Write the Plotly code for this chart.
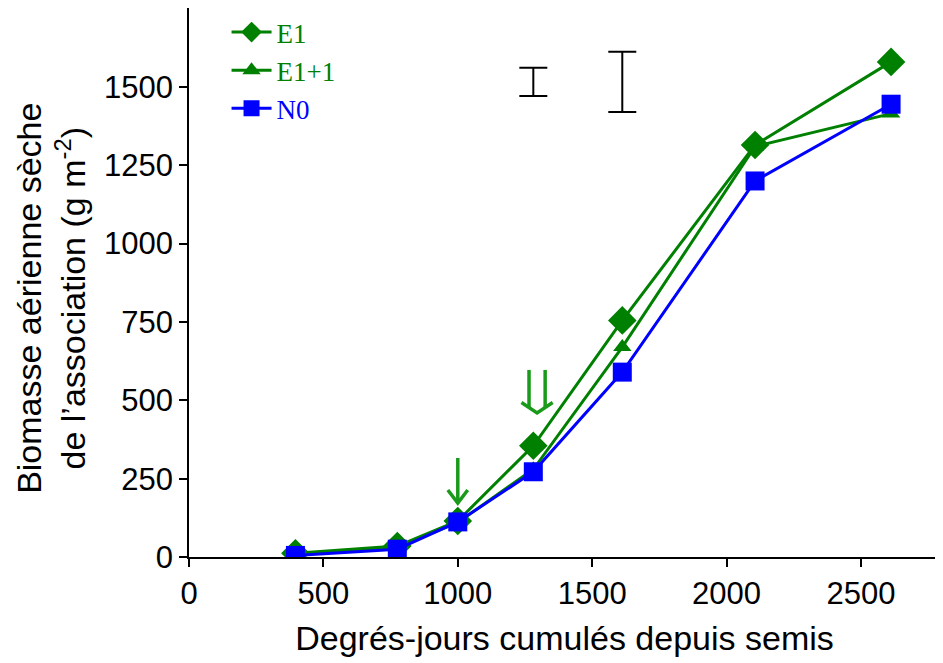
import plotly.graph_objects as go

# ---- data ----
x_deg = [396, 775, 1000, 1281, 1612, 2106, 2612]
e1 = [12, 35, 115, 355, 755, 1315, 1580]
e1p1 = [10, 30, 110, 280, 670, 1310, 1415]
n0 = [5, 25, 112, 272, 590, 1200, 1445]

err_x = [1281, 1612]
err_center = [1516, 1516]
err_half = [45, 96]

arrow_x = [1000, 1295]
arrow_top = [316, 597]
arrow_tip = [172, 460]
arrow_kind = ["single", "double"]

x_ticks = [0, 500, 1000, 1500, 2000, 2500]
y_ticks = [0, 250, 500, 750, 1000, 1250, 1500]

y_title = "Biomasse aérienne sèche<br>de l’association (g m<sup>-2</sup>)"
x_title = "Degrés-jours cumulés depuis semis"

GREEN = "#008000"
BLUE = "#0000FF"

fig = go.Figure()

fig.add_trace(go.Scatter(
    x=x_deg, y=e1p1, mode="lines+markers",
    name='<span style="color:#008000">E1+1</span>',
    line=dict(color=GREEN, width=3),
    marker=dict(symbol="triangle-up", size=16, color=GREEN),
    legendrank=2))
fig.add_trace(go.Scatter(
    x=x_deg, y=e1, mode="lines+markers",
    name='<span style="color:#008000">E1</span>',
    line=dict(color=GREEN, width=3),
    marker=dict(symbol="diamond", size=22, color=GREEN),
    legendrank=1))
fig.add_trace(go.Scatter(
    x=x_deg, y=n0, mode="lines+markers",
    name='<span style="color:#0000FF">N0</span>',
    line=dict(color=BLUE, width=3),
    marker=dict(symbol="square", size=19, color=BLUE),
    legendrank=3))

# error bars
fig.add_trace(go.Scatter(
    x=err_x, y=err_center, mode="markers",
    marker=dict(size=1, color="rgba(0,0,0,0)"),
    error_y=dict(type="data", array=err_half, color="black", thickness=2, width=14),
    showlegend=False, hoverinfo="skip"))

# arrows (open V heads)
for ax, at, tip, kind in zip(arrow_x, arrow_top, arrow_tip, arrow_kind):
    if kind == "single":
        xs = [ax, ax, None, ax - 37, ax, ax + 37]
        ys = [at, tip + 3, None, tip + 42, tip, tip + 42]
    else:
        dx = 30
        xs = [ax - dx, ax - dx, None, ax + dx, ax + dx, None, ax - 58, ax, ax + 58]
        ys = [at, tip + 18, None, at, tip + 18, None, tip + 33, tip, tip + 33]
    fig.add_trace(go.Scatter(x=xs, y=ys, mode="lines",
                             line=dict(color="#1a9a1a", width=3.5),
                             showlegend=False, hoverinfo="skip"))

tick_font = dict(family="Liberation Sans, Arial, sans-serif", size=31, color="black")
title_font = dict(family="Liberation Sans, Arial, sans-serif", size=34, color="black")

# page body has an 8px default margin: size the figure so it fits the 943x663 window
fig.update_layout(
    width=935, height=655,
    margin=dict(l=181, r=3, t=0, b=106),
    plot_bgcolor="white", paper_bgcolor="white",
    showlegend=True,
    legend=dict(x=0.05, y=1.0, xanchor="left", yanchor="top",
                bgcolor="rgba(0,0,0,0)",
                font=dict(family="Liberation Serif, Times New Roman, serif", size=27),
                itemwidth=40),
    xaxis=dict(range=[0, 2794], tickvals=x_ticks, ticks="outside", ticklen=8,
               tickwidth=1.5, tickcolor="black", automargin=False,
               showline=True, linecolor="black", linewidth=1.5, mirror=True,
               showgrid=False, zeroline=False, tickfont=tick_font,
               title=dict(text=x_title, font=title_font, standoff=16)),
    yaxis=dict(range=[0, 1752], tickvals=y_ticks, ticks="outside", ticklen=8,
               tickwidth=1.5, tickcolor="black", automargin=False,
               showline=True, linecolor="black", linewidth=1.5, mirror=True,
               showgrid=False, zeroline=False, tickfont=tick_font),
    annotations=[
        dict(text=y_title, xref="paper", yref="paper", x=-0.2397, y=0.472,
             xanchor="left", yanchor="middle", textangle=-90, showarrow=False,
             borderpad=0, font=title_font),
    ],
)

fig.write_html("out.html")
